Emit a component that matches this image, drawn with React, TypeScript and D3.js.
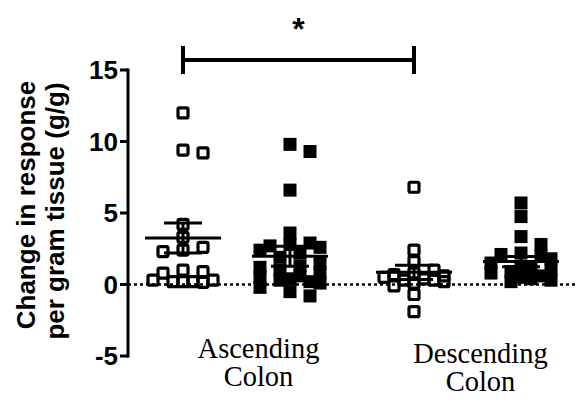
import React from 'react';
import * as d3 from 'd3';

// ---- data ----
const regions = ['Ascending Colon', 'Descending Colon'];
const regionLines = [['Ascending', 'Colon'], ['Descending', 'Colon']];
const conditions = ['open', 'filled'];
const yTicks = [-5, 0, 5, 10, 15];

const ascendingOpen = [12.0, 9.4, 9.2, 4.2, 3.3, 2.6, 2.4, 2.3, 1.0, 0.9, 0.8, 0.3, 0.2, 0.2, 0.15, 0.2, 0.3];
const ascendingFilled = [9.8, 9.3, 6.6, 3.6, 2.9, 2.8, 2.7, 2.6, 2.4, 2.2, 1.9, 1.5, 1.3, 1.2, 1.0, 0.8, 0.6, 0.5, 0.4, 0.3, 0.2, 0.1, -0.2, -0.5, -0.8];
const descendingOpen = [6.8, 2.4, 1.6, 1.0, 0.8, 0.7, 0.6, 0.5, 0.4, 0.3, 0.3, 0.2, 0.1, -0.1, -0.7, -1.9];
const descendingFilled = [5.7, 4.75, 3.35, 2.8, 2.2, 2.1, 2.0, 1.8, 1.5, 1.2, 1.2, 1.0, 0.9, 0.8, 0.6, 0.5, 0.4, 0.3, 0.2];

const groupMeans = [3.25, 1.98, 0.85, 1.6];
const groupSems = [1.05, 0.7, 0.5, 0.35];

const significance = { from: 0, to: 2, label: '*' }; // group indices

const groups = [
  { region: regions[0], cond: conditions[0], values: ascendingOpen },
  { region: regions[0], cond: conditions[1], values: ascendingFilled },
  { region: regions[1], cond: conditions[0], values: descendingOpen },
  { region: regions[1], cond: conditions[1], values: descendingFilled },
].map((g, i) => ({ ...g, mean: groupMeans[i], sem: groupSems[i] }));

// ---- layout ----
const W = 583;
const H = 403;
const axisX = 128;

const y = d3.scaleLinear().domain([-5, 15]).range([356, 70]);
const xOuter = d3.scaleBand<string>().domain(regions).range([121, 583]).padding(0);
const xInner = d3.scalePoint<string>().domain(conditions).range([-53.5, 53.5]);
const cx = (g: { region: string; cond: string }) =>
  (xOuter(g.region) as number) + xOuter.bandwidth() / 2 + (xInner(g.cond) as number);

function beeswarm(values: number[], center: number) {
  const step = 10;
  const minD = 11;
  const placed: { x: number; y: number }[] = [];
  const order = values.map((v, i) => ({ v, i })).sort((a, b) => b.v - a.v);
  for (const { v } of order) {
    const py = y(v);
    const cands: number[] = [0];
    for (let k = 1; k <= 4; k++) {
      cands.push(k * step, -k * step);
    }
    let best = cands[0];
    let bestScore = -Infinity;
    let found = false;
    for (const off of cands) {
      const px = center + off;
      let minDist = Infinity;
      let collide = false;
      for (const p of placed) {
        const dx = Math.abs(p.x - px);
        const dy = Math.abs(p.y - py);
        if (dx < minD && dy < minD) collide = true;
        minDist = Math.min(minDist, Math.max(dx, dy));
      }
      if (!collide && Math.abs(off) <= 30) {
        best = off;
        found = true;
        break;
      }
      if (minDist > bestScore) {
        bestScore = minDist;
        best = off;
      }
    }
    if (!found) {
      best = Math.max(-30, Math.min(30, best));
    }
    placed.push({ x: center + best, y: py });
  }
  return placed;
}

export default function App() {
  const sq = 10;
  const sigX1 = cx(groups[significance.from]);
  const sigX2 = cx(groups[significance.to]);
  return (
    <svg
      width={W}
      height={H}
      viewBox={`0 0 ${W} ${H}`}
      style={{ position: 'absolute', left: 0, top: 0, background: '#fff' }}
    >
      <rect x={0} y={0} width={W} height={H} fill="#fff" />
      {/* zero reference line */}
      <line x1={axisX} x2={578} y1={y(0)} y2={y(0)} stroke="#000" strokeWidth={2.5} strokeDasharray="3,3" />

      {/* points */}
      {groups.map((g, gi) => {
        const c = cx(g);
        const pts = beeswarm(g.values, c);
        return (
          <g key={gi}>
            {pts.map((p, i) =>
              g.cond === 'open' ? (
                <rect
                  key={i}
                  x={p.x - sq / 2}
                  y={p.y - sq / 2}
                  width={sq}
                  height={sq}
                  rx={1.5}
                  fill="none"
                  stroke="#000"
                  strokeWidth={3.2}
                />
              ) : (
                <rect key={i} x={p.x - 6.5} y={p.y - 6.5} width={13} height={13} fill="#000" />
              )
            )}
          </g>
        );
      })}

      {/* mean and SEM */}
      {groups.map((g, gi) => {
        const c = cx(g);
        const m = y(g.mean);
        const hi = y(g.mean + g.sem);
        const lo = y(g.mean - g.sem);
        return (
          <g key={'m' + gi} stroke="#000" strokeWidth={3}>
            <line x1={c - 38} x2={c + 38} y1={m} y2={m} />
            <line x1={c} x2={c} y1={hi} y2={lo} />
            <line x1={c - 19} x2={c + 19} y1={hi} y2={hi} />
            <line x1={c - 19} x2={c + 19} y1={lo} y2={lo} />
          </g>
        );
      })}

      {/* y axis */}
      <line x1={axisX} x2={axisX} y1={y(15) - 1.5} y2={y(-5) + 1.5} stroke="#000" strokeWidth={3} />
      {yTicks.map((t) => (
        <g key={t}>
          <line x1={axisX - 8} x2={axisX} y1={y(t)} y2={y(t)} stroke="#000" strokeWidth={3} />
          <text
            x={axisX - 10}
            y={y(t)}
            dy="0.35em"
            textAnchor="end"
            fontFamily="Liberation Sans, Arial, sans-serif"
            fontWeight="bold"
            fontSize={26}
            fill="#000"
          >
            {t}
          </text>
        </g>
      ))}

      {/* y axis title */}
      <g fontFamily="Liberation Sans, Arial, sans-serif" fontWeight="bold" fontSize={26} fill="#000" textAnchor="middle">
        <text transform={`translate(35,${y(5) - 8}) rotate(-90)`}>Change in response</text>
        <text transform={`translate(64,${y(5) - 2}) rotate(-90)`}>per gram tissue (g/g)</text>
      </g>

      {/* category labels */}
      {regions.map((r, i) => {
        const c = (xOuter(r) as number) + xOuter.bandwidth() / 2;
        const offs = [22, 13];
        const base = [358, 363];
        return (
          <text
            key={r}
            textAnchor="middle"
            fontFamily="Liberation Serif, Times New Roman, serif"
            fontSize={28.5}
            fill="#000"
          >
            {regionLines[i].map((line, li) => (
              <tspan key={li} x={c + offs[i]} y={base[i] + li * 28}>
                {line}
              </tspan>
            ))}
          </text>
        );
      })}

      {/* significance bar */}
      <g stroke="#000" strokeWidth={4}>
        <line x1={sigX1} x2={sigX2} y1={60} y2={60} />
        <line x1={sigX1} x2={sigX1} y1={46} y2={74} />
        <line x1={sigX2} x2={sigX2} y1={46} y2={74} />
      </g>
      <text
        x={(sigX1 + sigX2) / 2}
        y={40}
        textAnchor="middle"
        fontFamily="Liberation Sans, Arial, sans-serif"
        fontWeight="bold"
        fontSize={32}
        fill="#000"
      >
        {significance.label}
      </text>
    </svg>
  );
}
